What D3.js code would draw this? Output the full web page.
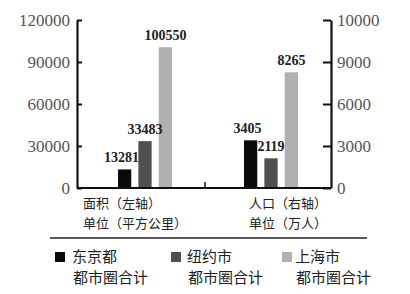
<!DOCTYPE html>
<html>
<head>
<meta charset="utf-8">
<script src="https://cdn.jsdelivr.net/npm/d3@7"></script>
<style>
	body { margin: 0; background: #fff; }
	.value { font-family: "Liberation Serif", serif; font-size: 14px; font-weight: bold; fill: #222; }
	.cjk { font-family: "Noto Sans CJK SC", sans-serif; fill: #222; }
</style>
</head>
<body>
<script>
// categories and series
var groups = ["面积", "人口"];
var series = ["东京都", "纽约市", "上海市"];
var areaValues = [13281, 33483, 100550];
var popValues = [3405, 2119, 8265];
var leftTicks = [0, 30000, 60000, 90000, 120000];
var rightTicks = [0, 3000, 6000, 9000, 12000];
var rightTickLabels = ["0", "3000", "6000", "9000", "10000"];
var groupLabels = [["面积（左轴）", "单位（平方公里）"], ["人口（右轴）", "单位（万人）"]];
var legendLine2 = "都市圈合计";
var colors = ["#0a0a0a", "#505050", "#b0b0b0"];

var chartW = 410, chartH = 294;
var axisLeftX = 77, axisRightX = 331, plotTop = 20, plotBottom = 188;

var svg = d3.select("body").append("svg")
	.attr("width", chartW)
	.attr("height", chartH);

var yLeft = d3.scaleLinear().domain([0, 120000]).range([plotBottom, plotTop]);
var yRight = d3.scaleLinear().domain([0, 12000]).range([plotBottom, plotTop]);

var x0 = d3.scaleBand().domain(groups).range([82, 334]);
var x1 = d3.scaleBand().domain(series).range([0, 54]).paddingInner(0.35);

function barX(d)
{
	return x0(d.group) + x0.bandwidth() / 2 - 27 + x1(d.s);
}

// bars
var data = [];
series.forEach(function(s, i)
{
	data.push({ group: groups[0], s: s, i: i, v: areaValues[i], y: yLeft });
	data.push({ group: groups[1], s: s, i: i, v: popValues[i], y: yRight });
});

var barG = svg.append("g");
barG.selectAll(".bar")
	.data(data)
	.enter()
	.append("rect")
		.attr("class", "bar")
		.attr("x", barX)
		.attr("width", x1.bandwidth())
		.attr("y", function(d) { return d.y(d.v); })
		.attr("height", function(d) { return plotBottom - d.y(d.v); })
		.style("fill", function(d) { return colors[d.i]; });

barG.selectAll(".value")
	.data(data)
	.enter()
	.append("text")
		.attr("class", "value")
		.attr("text-anchor", "middle")
		.attr("x", function(d) { return barX(d) + x1.bandwidth() / 2 - (d.i === 0 ? 3 : 0); })
		.attr("y", function(d) { return d.y(d.v) - 7; })
		.text(function(d) { return d.v; });

// axes
var axisL = svg.append("g")
	.attr("transform", "translate(" + axisLeftX + ",0)")
	.call(d3.axisLeft(yLeft).tickValues(leftTicks).tickSizeInner(-5).tickSizeOuter(0).tickPadding(7)
		.tickFormat(d3.format("d")));

var axisR = svg.append("g")
	.attr("transform", "translate(" + axisRightX + ",0)")
	.call(d3.axisRight(yRight).tickValues(rightTicks).tickSizeInner(-8).tickSizeOuter(0).tickPadding(6)
		.tickFormat(function(d, i) { return rightTickLabels[i]; }));

[axisL, axisR].forEach(function(a)
{
	a.select(".domain").attr("stroke", "#111").attr("stroke-width", 2.2);
	a.selectAll(".tick line").attr("stroke", "#111").attr("stroke-width", 2);
	a.selectAll(".tick text")
		.style("font-family", "'Liberation Serif', 'DejaVu Serif', serif")
		.style("font-size", "17px")
		.style("fill", "#555");
});

// baseline and middle tick
svg.append("line")
	.attr("x1", axisLeftX).attr("x2", axisRightX)
	.attr("y1", plotBottom).attr("y2", plotBottom)
	.attr("stroke", "#111").attr("stroke-width", 2.2);

var midX = x0(groups[1]);
svg.append("line")
	.attr("x1", midX - 3).attr("x2", midX - 3)
	.attr("y1", plotBottom).attr("y2", plotBottom - 6)
	.attr("stroke", "#111").attr("stroke-width", 1.5);

// group labels under the axis
var glX = [83, 249];
groupLabels.forEach(function(lines, i)
{
	lines.forEach(function(t, j)
	{
		svg.append("text")
			.attr("class", "cjk")
			.attr("x", glX[i])
			.attr("y", 208 + j * 20)
			.style("font-size", "13px")
			.text(t);
	});
});

// separator
svg.append("line")
	.attr("x1", 50).attr("x2", 367)
	.attr("y1", 238).attr("y2", 238)
	.attr("stroke", "#222").attr("stroke-width", 1.5);

// legend
var legX = [55, 171, 282];
var legTextX = [72, 187, 295];
var legend = svg.selectAll(".legend")
	.data(series)
	.enter()
	.append("g")
		.attr("class", "legend");

legend.append("rect")
	.attr("x", function(d, i) { return legX[i]; })
	.attr("y", 252)
	.attr("width", 10)
	.attr("height", 10)
	.style("fill", function(d, i) { return colors[i]; });

legend.append("text")
	.attr("class", "cjk")
	.attr("x", function(d, i) { return legTextX[i]; })
	.attr("y", 262)
	.style("font-size", "15px")
	.text(function(d) { return d; });

legend.append("text")
	.attr("class", "cjk")
	.attr("x", function(d, i) { return legTextX[i] + 1; })
	.attr("y", 283)
	.style("font-size", "15px")
	.text(legendLine2);
</script>
</body>
</html>
